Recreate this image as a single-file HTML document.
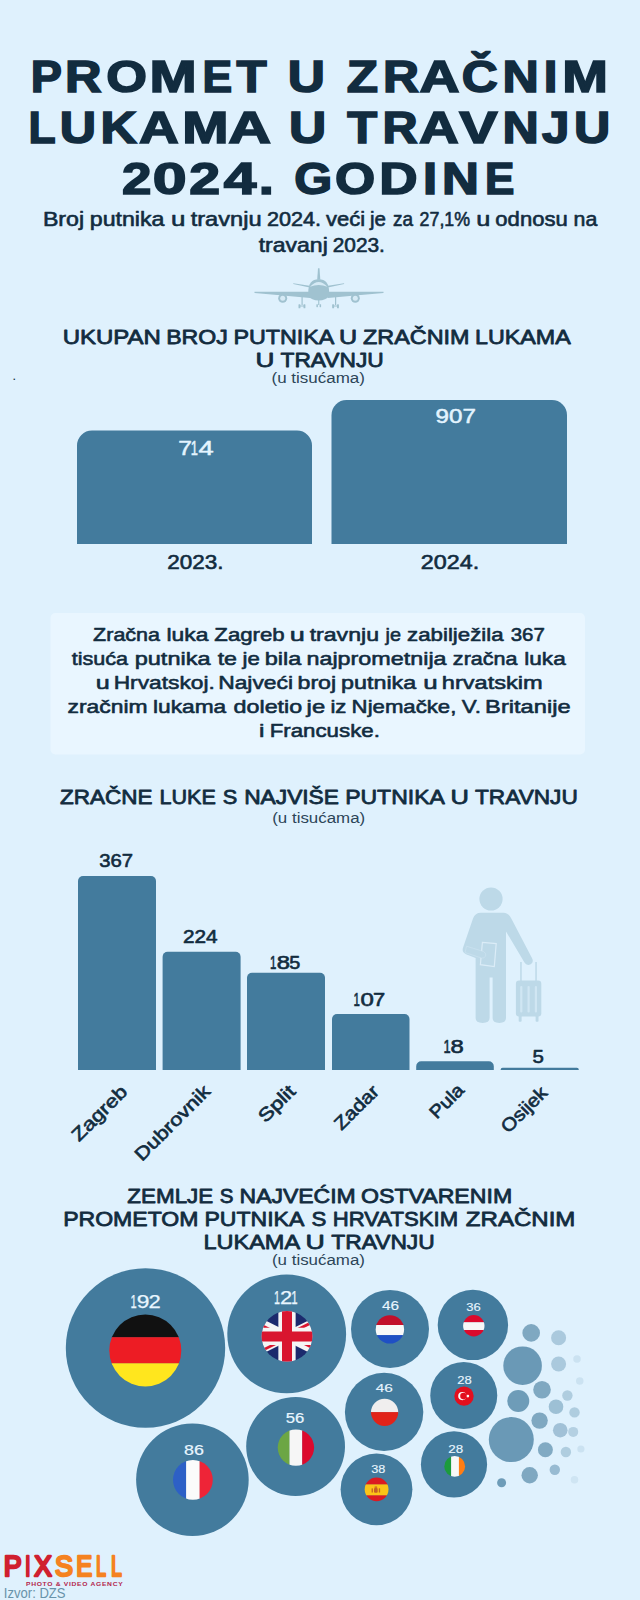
<!DOCTYPE html>
<html lang="hr">
<head>
<meta charset="utf-8">
<title>Promet u zračnim lukama u travnju 2024. godine</title>
<style>
html,body{margin:0;padding:0;background:#dff1fd;}
body{width:640px;height:1600px;overflow:hidden;}
svg{display:block;font-family:"Liberation Sans",sans-serif;}
text{white-space:pre;}
</style>
</head>
<body>
<svg width="640" height="1600" viewBox="0 0 640 1600">
<rect width="640" height="1600" fill="#dff1fd"/>
<text y="92.40" font-size="44.62" font-weight="700" fill="#122c3f" stroke="#122c3f" stroke-width="1.6" stroke-linejoin="miter" aria-label="PROMET U ZRAČNIM"><tspan x="30.76" textLength="31.19" lengthAdjust="spacingAndGlyphs">P</tspan><tspan x="65.01" textLength="36.56" lengthAdjust="spacingAndGlyphs">R</tspan><tspan x="106.21" textLength="40.74" lengthAdjust="spacingAndGlyphs">O</tspan><tspan x="149.62" textLength="47.19" lengthAdjust="spacingAndGlyphs">M</tspan><tspan x="202.41" textLength="29.69" lengthAdjust="spacingAndGlyphs">E</tspan><tspan x="236.56" textLength="30.18" lengthAdjust="spacingAndGlyphs">T</tspan> <tspan x="287.71" textLength="37.19" lengthAdjust="spacingAndGlyphs">U</tspan> <tspan x="346.76" textLength="31.26" lengthAdjust="spacingAndGlyphs">Z</tspan><tspan x="383.06" textLength="36.00" lengthAdjust="spacingAndGlyphs">R</tspan><tspan x="419.41" textLength="40.04" lengthAdjust="spacingAndGlyphs">A</tspan><tspan x="461.80" textLength="36.05" lengthAdjust="spacingAndGlyphs">Č</tspan><tspan x="502.53" textLength="36.29" lengthAdjust="spacingAndGlyphs">N</tspan><tspan x="543.84" textLength="13.70" lengthAdjust="spacingAndGlyphs">I</tspan><tspan x="562.23" textLength="45.70" lengthAdjust="spacingAndGlyphs">M</tspan></text>
<text y="143.40" font-size="44.62" font-weight="700" fill="#122c3f" stroke="#122c3f" stroke-width="1.6" stroke-linejoin="miter" aria-label="LUKAMA U TRAVNJU"><tspan x="28.41" textLength="27.16" lengthAdjust="spacingAndGlyphs">L</tspan><tspan x="59.78" textLength="36.29" lengthAdjust="spacingAndGlyphs">U</tspan><tspan x="100.53" textLength="36.28" lengthAdjust="spacingAndGlyphs">K</tspan><tspan x="138.92" textLength="39.77" lengthAdjust="spacingAndGlyphs">A</tspan><tspan x="182.19" textLength="46.29" lengthAdjust="spacingAndGlyphs">M</tspan><tspan x="228.15" textLength="40.58" lengthAdjust="spacingAndGlyphs">A</tspan> <tspan x="288.96" textLength="37.19" lengthAdjust="spacingAndGlyphs">U</tspan> <tspan x="347.31" textLength="29.92" lengthAdjust="spacingAndGlyphs">T</tspan><tspan x="382.64" textLength="35.14" lengthAdjust="spacingAndGlyphs">R</tspan><tspan x="418.92" textLength="39.77" lengthAdjust="spacingAndGlyphs">A</tspan><tspan x="459.26" textLength="38.34" lengthAdjust="spacingAndGlyphs">V</tspan><tspan x="502.53" textLength="36.29" lengthAdjust="spacingAndGlyphs">N</tspan><tspan x="542.06" textLength="27.40" lengthAdjust="spacingAndGlyphs">J</tspan><tspan x="574.03" textLength="36.29" lengthAdjust="spacingAndGlyphs">U</tspan></text>
<text y="194.40" font-size="44.62" font-weight="700" fill="#122c3f" stroke="#122c3f" stroke-width="1.6" stroke-linejoin="miter" aria-label="2024. GODINE"><tspan x="121.95" textLength="29.43" lengthAdjust="spacingAndGlyphs">2</tspan><tspan x="152.87" textLength="33.84" lengthAdjust="spacingAndGlyphs">0</tspan><tspan x="189.36" textLength="30.88" lengthAdjust="spacingAndGlyphs">2</tspan><tspan x="223.67" textLength="32.64" lengthAdjust="spacingAndGlyphs">4</tspan><tspan x="258.76" textLength="15.14" lengthAdjust="spacingAndGlyphs">.</tspan> <tspan x="294.35" textLength="37.91" lengthAdjust="spacingAndGlyphs">G</tspan><tspan x="334.98" textLength="40.18" lengthAdjust="spacingAndGlyphs">O</tspan><tspan x="379.35" textLength="38.34" lengthAdjust="spacingAndGlyphs">D</tspan><tspan x="422.98" textLength="14.18" lengthAdjust="spacingAndGlyphs">I</tspan><tspan x="441.98" textLength="36.91" lengthAdjust="spacingAndGlyphs">N</tspan><tspan x="484.94" textLength="29.40" lengthAdjust="spacingAndGlyphs">E</tspan></text>
<text y="226.00" font-size="19.62" font-weight="400" fill="#122c3f" stroke="#122c3f" stroke-width="0.6" stroke-linejoin="round"><tspan x="42.95" textLength="41.13" lengthAdjust="spacingAndGlyphs">Broj</tspan> <tspan x="89.74" textLength="74.75" lengthAdjust="spacingAndGlyphs">putnika</tspan> <tspan x="171.07" textLength="14.40" lengthAdjust="spacingAndGlyphs">u</tspan> <tspan x="190.65" textLength="70.93" lengthAdjust="spacingAndGlyphs">travnju</tspan> <tspan x="266.92" textLength="54.08" lengthAdjust="spacingAndGlyphs">2024.</tspan> <tspan x="326.14" textLength="39.11" lengthAdjust="spacingAndGlyphs">veći</tspan> <tspan x="370.01" textLength="15.98" lengthAdjust="spacingAndGlyphs">je</tspan> <tspan x="392.99" textLength="20.03" lengthAdjust="spacingAndGlyphs">za</tspan> <tspan x="419.61" textLength="50.52" lengthAdjust="spacingAndGlyphs">27,1%</tspan> <tspan x="476.36" textLength="14.07" lengthAdjust="spacingAndGlyphs">u</tspan> <tspan x="495.37" textLength="72.33" lengthAdjust="spacingAndGlyphs">odnosu</tspan> <tspan x="573.61" textLength="23.74" lengthAdjust="spacingAndGlyphs">na</tspan></text>
<text y="252.00" font-size="19.62" font-weight="400" fill="#122c3f" stroke="#122c3f" stroke-width="0.6" stroke-linejoin="round"><tspan x="258.65" textLength="69.13" lengthAdjust="spacingAndGlyphs">travanj</tspan> <tspan x="332.71" textLength="52.22" lengthAdjust="spacingAndGlyphs">2023.</tspan></text>
<g fill="#a0c2d0">
<path d="M318 268.3h1.500l.800 11.500h-3.100z"/>
<path d="M308.300 292Q308.300 279.300 318.700 279.300Q329.100 279.300 329.100 292V296.200Q326 300.300 318.700 300.400Q311.400 300.300 308.300 296.200Z"/>
<path d="M293.300 283.200l16.200 2.600v1.800l-16.200-3.600zM344.100 283.200l-16.200 2.600v1.800l16.200-3.600z"/>
<path d="M254.500 291.700H310V298l-30-2.700l-25.500-2.400zM383.500 291.700H328V298l30-2.700l25.500-2.400z"/>
<circle cx="282.700" cy="298.300" r="4.500"/><circle cx="355.300" cy="298.300" r="4.500"/>
<rect x="301.500" y="296" width="1.200" height="9"/><rect x="318.200" y="299" width="1.100" height="6"/><rect x="335" y="296" width="1.200" height="9"/>
<rect x="298.500" y="304.200" width="1.900" height="4" rx=".5"/><rect x="303.500" y="304.200" width="1.900" height="4" rx=".5"/><rect x="299" y="305.500" width="6" height="1"/>
<rect x="316.400" y="304.200" width="1.500" height="3" rx=".4"/><rect x="319.600" y="304.200" width="1.500" height="3" rx=".4"/>
<rect x="332.200" y="304.200" width="1.900" height="4" rx=".5"/><rect x="337" y="304.200" width="1.900" height="4" rx=".5"/><rect x="332.500" y="305.500" width="6" height="1"/>
</g>
<circle cx="282.700" cy="298.300" r="2.500" fill="#d6eaf5"/><circle cx="355.300" cy="298.300" r="2.500" fill="#d6eaf5"/>
<path d="M310 286.800Q318.700 277 327.400 286.800Q318.700 283.300 310 286.800Z" fill="#d6eaf5"/>
<text y="344.25" font-size="20.71" font-weight="400" fill="#122c3f" stroke="#122c3f" stroke-width="0.8" stroke-linejoin="round"><tspan x="62.70" textLength="98.04" lengthAdjust="spacingAndGlyphs">UKUPAN</tspan> <tspan x="166.15" textLength="61.63" lengthAdjust="spacingAndGlyphs">BROJ</tspan> <tspan x="233.46" textLength="99.63" lengthAdjust="spacingAndGlyphs">PUTNIKA</tspan> <tspan x="339.12" textLength="18.12" lengthAdjust="spacingAndGlyphs">U</tspan> <tspan x="363.05" textLength="106.44" lengthAdjust="spacingAndGlyphs">ZRAČNIM</tspan> <tspan x="475.14" textLength="95.62" lengthAdjust="spacingAndGlyphs">LUKAMA</tspan></text>
<text y="366.75" font-size="20.71" font-weight="400" fill="#122c3f" stroke="#122c3f" stroke-width="0.8" stroke-linejoin="round"><tspan x="255.64" textLength="18.88" lengthAdjust="spacingAndGlyphs">U</tspan> <tspan x="280.55" textLength="103.21" lengthAdjust="spacingAndGlyphs">TRAVNJU</tspan></text>
<text transform="translate(271.48 383.00) scale(1.1414 1)" font-size="14.90" font-weight="400" fill="#2c4558">(u tisućama)</text>
<text x="13" y="380.3" font-size="9" font-weight="700" fill="#122c3f">.</text>
<path d="M77 544V445.5a15 15 0 0 1 15-15H297a15 15 0 0 1 15 15V544z" fill="#437b9d"/>
<path d="M331.5 544V415a15 15 0 0 1 15-15H552a15 15 0 0 1 15 15V544z" fill="#437b9d"/>
<text y="454.50" font-size="19.91" font-weight="400" fill="#e3f4ff" stroke="#e3f4ff" stroke-width="0.5" stroke-linejoin="round" aria-label="714"><tspan x="178.17" textLength="13.69" lengthAdjust="spacingAndGlyphs">7</tspan><tspan x="190.63" textLength="7.16" lengthAdjust="spacingAndGlyphs">1</tspan><tspan x="198.45" textLength="15.20" lengthAdjust="spacingAndGlyphs">4</tspan></text>
<text transform="translate(435.61 423.00) scale(1.2155 1)" font-size="19.91" font-weight="400" fill="#e3f4ff" stroke="#e3f4ff" stroke-width="0.5" stroke-linejoin="round">907</text>
<text transform="translate(167.28 569.00) scale(1.1278 1)" font-size="19.91" font-weight="400" fill="#122c3f" stroke="#122c3f" stroke-width="0.6" stroke-linejoin="round">2023.</text>
<text transform="translate(420.83 569.00) scale(1.1704 1)" font-size="19.91" font-weight="400" fill="#122c3f" stroke="#122c3f" stroke-width="0.6" stroke-linejoin="round">2024.</text>
<rect x="50.5" y="613" width="534.5" height="141.5" rx="5" fill="#e9f6ff"/>
<text y="641.25" font-size="19.26" font-weight="400" fill="#122c3f" stroke="#122c3f" stroke-width="0.6" stroke-linejoin="round"><tspan x="93.10" textLength="66.95" lengthAdjust="spacingAndGlyphs">Zračna</tspan> <tspan x="166.51" textLength="41.98" lengthAdjust="spacingAndGlyphs">luka</tspan> <tspan x="214.33" textLength="70.38" lengthAdjust="spacingAndGlyphs">Zagreb</tspan> <tspan x="289.74" textLength="15.05" lengthAdjust="spacingAndGlyphs">u</tspan> <tspan x="309.65" textLength="69.39" lengthAdjust="spacingAndGlyphs">travnju</tspan> <tspan x="385.50" textLength="15.46" lengthAdjust="spacingAndGlyphs">je</tspan> <tspan x="407.11" textLength="96.40" lengthAdjust="spacingAndGlyphs">zabilježila</tspan> <tspan x="510.68" textLength="34.16" lengthAdjust="spacingAndGlyphs">367</tspan></text>
<text y="665.10" font-size="19.26" font-weight="400" fill="#122c3f" stroke="#122c3f" stroke-width="0.6" stroke-linejoin="round"><tspan x="71.68" textLength="56.37" lengthAdjust="spacingAndGlyphs">tisuća</tspan> <tspan x="134.72" textLength="75.77" lengthAdjust="spacingAndGlyphs">putnika</tspan> <tspan x="217.65" textLength="19.37" lengthAdjust="spacingAndGlyphs">te</tspan> <tspan x="242.55" textLength="17.27" lengthAdjust="spacingAndGlyphs">je</tspan> <tspan x="264.72" textLength="36.57" lengthAdjust="spacingAndGlyphs">bila</tspan> <tspan x="306.48" textLength="140.09" lengthAdjust="spacingAndGlyphs">najprometnija</tspan> <tspan x="452.89" textLength="64.65" lengthAdjust="spacingAndGlyphs">zračna</tspan> <tspan x="524.28" textLength="41.46" lengthAdjust="spacingAndGlyphs">luka</tspan></text>
<text y="689.00" font-size="19.26" font-weight="400" fill="#122c3f" stroke="#122c3f" stroke-width="0.6" stroke-linejoin="round"><tspan x="95.66" textLength="14.00" lengthAdjust="spacingAndGlyphs">u</tspan> <tspan x="113.68" textLength="101.13" lengthAdjust="spacingAndGlyphs">Hrvatskoj.</tspan> <tspan x="218.17" textLength="74.90" lengthAdjust="spacingAndGlyphs">Najveći</tspan> <tspan x="297.49" textLength="38.67" lengthAdjust="spacingAndGlyphs">broj</tspan> <tspan x="340.98" textLength="75.26" lengthAdjust="spacingAndGlyphs">putnika</tspan> <tspan x="423.32" textLength="14.40" lengthAdjust="spacingAndGlyphs">u</tspan> <tspan x="441.85" textLength="100.90" lengthAdjust="spacingAndGlyphs">hrvatskim</tspan></text>
<text y="712.90" font-size="19.26" font-weight="400" fill="#122c3f" stroke="#122c3f" stroke-width="0.6" stroke-linejoin="round"><tspan x="67.59" textLength="80.05" lengthAdjust="spacingAndGlyphs">zračnim</tspan> <tspan x="153.02" textLength="73.20" lengthAdjust="spacingAndGlyphs">lukama</tspan> <tspan x="233.57" textLength="68.66" lengthAdjust="spacingAndGlyphs">doletio</tspan> <tspan x="306.60" textLength="18.56" lengthAdjust="spacingAndGlyphs">je</tspan> <tspan x="330.46" textLength="16.00" lengthAdjust="spacingAndGlyphs">iz</tspan> <tspan x="351.63" textLength="104.74" lengthAdjust="spacingAndGlyphs">Njemačke,</tspan> <tspan x="461.89" textLength="19.21" lengthAdjust="spacingAndGlyphs">V.</tspan> <tspan x="485.11" textLength="85.43" lengthAdjust="spacingAndGlyphs">Britanije</tspan></text>
<text y="737.00" font-size="19.26" font-weight="400" fill="#122c3f" stroke="#122c3f" stroke-width="0.6" stroke-linejoin="round"><tspan x="259.01" textLength="5.43" lengthAdjust="spacingAndGlyphs">i</tspan> <tspan x="269.72" textLength="110.12" lengthAdjust="spacingAndGlyphs">Francuske.</tspan></text>
<text y="804.25" font-size="20.71" font-weight="400" fill="#122c3f" stroke="#122c3f" stroke-width="0.8" stroke-linejoin="round"><tspan x="60.07" textLength="92.56" lengthAdjust="spacingAndGlyphs">ZRAČNE</tspan> <tspan x="159.52" textLength="56.39" lengthAdjust="spacingAndGlyphs">LUKE</tspan> <tspan x="222.77" textLength="14.50" lengthAdjust="spacingAndGlyphs">S</tspan> <tspan x="244.18" textLength="94.80" lengthAdjust="spacingAndGlyphs">NAJVIŠE</tspan> <tspan x="345.18" textLength="98.41" lengthAdjust="spacingAndGlyphs">PUTNIKA</tspan> <tspan x="450.59" textLength="18.37" lengthAdjust="spacingAndGlyphs">U</tspan> <tspan x="475.05" textLength="102.70" lengthAdjust="spacingAndGlyphs">TRAVNJU</tspan></text>
<text transform="translate(272.24 823.00) scale(1.1352 1)" font-size="14.90" font-weight="400" fill="#2c4558">(u tisućama)</text>
<path d="M78 1070V881a5 5 0 0 1 5-5H151a5 5 0 0 1 5 5V1070z" fill="#437b9d"/>
<path d="M162.6 1070V956.7a5 5 0 0 1 5-5H235.6a5 5 0 0 1 5 5V1070z" fill="#437b9d"/>
<path d="M247 1070V977.8a5 5 0 0 1 5-5H320a5 5 0 0 1 5 5V1070z" fill="#437b9d"/>
<path d="M332 1070V1019a5 5 0 0 1 5-5H404.5a5 5 0 0 1 5 5V1070z" fill="#437b9d"/>
<path d="M416.2 1070V1066.2a5 5 0 0 1 5-5H488.8a5 5 0 0 1 5 5V1070z" fill="#437b9d"/>
<path d="M500.6 1070V1069.8a2 2 0 0 1 2-2H576.8a2 2 0 0 1 2 2V1070z" fill="#437b9d"/>
<text transform="translate(99.19 866.80) scale(1.1094 1)" font-size="18.31" font-weight="400" fill="#122c3f" stroke="#122c3f" stroke-width="0.6" stroke-linejoin="round">367</text>
<text transform="translate(182.96 942.70) scale(1.1368 1)" font-size="18.31" font-weight="400" fill="#122c3f" stroke="#122c3f" stroke-width="0.6" stroke-linejoin="round">224</text>
<text y="968.70" font-size="18.31" font-weight="400" fill="#122c3f" stroke="#122c3f" stroke-width="0.6" stroke-linejoin="round" aria-label="185"><tspan x="270.04" textLength="6.39" lengthAdjust="spacingAndGlyphs">1</tspan><tspan x="276.73" textLength="13.25" lengthAdjust="spacingAndGlyphs">8</tspan><tspan x="289.21" textLength="11.01" lengthAdjust="spacingAndGlyphs">5</tspan></text>
<text y="1005.60" font-size="18.31" font-weight="400" fill="#122c3f" stroke="#122c3f" stroke-width="0.6" stroke-linejoin="round" aria-label="107"><tspan x="353.44" textLength="6.39" lengthAdjust="spacingAndGlyphs">1</tspan><tspan x="360.54" textLength="13.32" lengthAdjust="spacingAndGlyphs">0</tspan><tspan x="372.90" textLength="12.22" lengthAdjust="spacingAndGlyphs">7</tspan></text>
<text y="1052.50" font-size="18.31" font-weight="400" fill="#122c3f" stroke="#122c3f" stroke-width="0.6" stroke-linejoin="round" aria-label="18"><tspan x="443.43" textLength="7.16" lengthAdjust="spacingAndGlyphs">1</tspan><tspan x="450.53" textLength="13.25" lengthAdjust="spacingAndGlyphs">8</tspan></text>
<text transform="translate(532.58 1062.80) scale(1.1151 1)" font-size="18.31" font-weight="400" fill="#122c3f" stroke="#122c3f" stroke-width="0.6" stroke-linejoin="round">5</text>
<text transform="translate(128.50 1092.90) rotate(-45) scale(1.2050 1)" text-anchor="end" font-size="18.30" font-weight="400" fill="#122c3f" stroke="#122c3f" stroke-width="0.65" stroke-linejoin="round">Zagreb</text>
<text transform="translate(211.40 1092.50) rotate(-45) scale(1.1920 1)" text-anchor="end" font-size="18.30" font-weight="400" fill="#122c3f" stroke="#122c3f" stroke-width="0.65" stroke-linejoin="round">Dubrovnik</text>
<text transform="translate(296.60 1092.50) rotate(-45) scale(1.2330 1)" text-anchor="end" font-size="18.30" font-weight="400" fill="#122c3f" stroke="#122c3f" stroke-width="0.65" stroke-linejoin="round">Split</text>
<text transform="translate(380.20 1092.50) rotate(-45) scale(1.1430 1)" text-anchor="end" font-size="18.30" font-weight="400" fill="#122c3f" stroke="#122c3f" stroke-width="0.65" stroke-linejoin="round">Zadar</text>
<text transform="translate(465.20 1091.30) rotate(-45) scale(1.1000 1)" text-anchor="end" font-size="18.30" font-weight="400" fill="#122c3f" stroke="#122c3f" stroke-width="0.65" stroke-linejoin="round">Pula</text>
<text transform="translate(548.50 1093.90) rotate(-45) scale(1.1200 1)" text-anchor="end" font-size="18.30" font-weight="400" fill="#122c3f" stroke="#122c3f" stroke-width="0.65" stroke-linejoin="round">Osijek</text>
<g fill="#bdd9e8">
<circle cx="491" cy="899" r="11.6"/>
<path d="M481 912.7H503.5Q508.5 912.7 511.3 918.5L532.2 958.5Q534 962.6 530.3 964.4Q526.6 966 524.3 962.3L506 931.5V1018Q506 1022.9 499.3 1022.9Q492.6 1022.9 492.6 1018V977.5H489.6V1018Q489.6 1022.9 482.6 1022.9Q475.6 1022.9 475.6 1018V958L466 954.3Q461.6 952.4 463 947.8L473 918.5Q475 912.7 481 912.7Z"/>
<rect x="515.9" y="980.6" width="25.4" height="35.8" rx="3.2"/>
<rect x="520.2" y="962" width="1.5" height="20"/><rect x="535.3" y="962" width="1.5" height="20"/>
<rect x="518.7" y="1015.5" width="2.9" height="6.3" rx=".8"/><rect x="535.6" y="1015.5" width="2.9" height="6.3" rx=".8"/>
</g>
<g fill="#d0e6f3"><rect x="520.2" y="986" width="2.2" height="26.5" rx="1.1"/><rect x="527.5" y="986" width="2.2" height="26.5" rx="1.1"/><rect x="534.8" y="986" width="2.2" height="26.5" rx="1.1"/></g>
<path d="M482.4 942.3L496.2 943.6L494.3 966.5L480.4 964.7Z" fill="#bdd9e8" stroke="#dbecf7" stroke-width="1.2"/>
<path d="M466.5 946.2L483.5 951.5Q486.6 953 485.6 956Q484.4 958.8 481.4 958L465 952.5Z" fill="#bdd9e8" stroke="#cfe4f1" stroke-width=".6"/>
<text y="1202.50" font-size="20.71" font-weight="400" fill="#122c3f" stroke="#122c3f" stroke-width="0.8" stroke-linejoin="round"><tspan x="127.33" textLength="85.96" lengthAdjust="spacingAndGlyphs">ZEMLJE</tspan> <tspan x="219.68" textLength="13.69" lengthAdjust="spacingAndGlyphs">S</tspan> <tspan x="239.56" textLength="116.10" lengthAdjust="spacingAndGlyphs">NAJVEĆIM</tspan> <tspan x="360.96" textLength="151.26" lengthAdjust="spacingAndGlyphs">OSTVARENIM</tspan></text>
<text y="1226.00" font-size="20.71" font-weight="400" fill="#122c3f" stroke="#122c3f" stroke-width="0.8" stroke-linejoin="round"><tspan x="63.16" textLength="135.31" lengthAdjust="spacingAndGlyphs">PROMETOM</tspan> <tspan x="204.43" textLength="98.67" lengthAdjust="spacingAndGlyphs">PUTNIKA</tspan> <tspan x="311.50" textLength="14.85" lengthAdjust="spacingAndGlyphs">S</tspan> <tspan x="332.73" textLength="125.35" lengthAdjust="spacingAndGlyphs">HRVATSKIM</tspan> <tspan x="465.88" textLength="109.47" lengthAdjust="spacingAndGlyphs">ZRAČNIM</tspan></text>
<text y="1249.00" font-size="20.71" font-weight="400" fill="#122c3f" stroke="#122c3f" stroke-width="0.8" stroke-linejoin="round"><tspan x="203.44" textLength="95.36" lengthAdjust="spacingAndGlyphs">LUKAMA</tspan> <tspan x="305.50" textLength="19.26" lengthAdjust="spacingAndGlyphs">U</tspan> <tspan x="331.24" textLength="103.52" lengthAdjust="spacingAndGlyphs">TRAVNJU</tspan></text>
<text transform="translate(271.99 1265.00) scale(1.1352 1)" font-size="14.90" font-weight="400" fill="#2c4558">(u tisućama)</text>
<circle cx="145.5" cy="1348" r="79.7" fill="#437b9d"/>
<circle cx="286.7" cy="1333.9" r="59.4" fill="#437b9d"/>
<circle cx="192.4" cy="1479.8" r="56.3" fill="#437b9d"/>
<circle cx="295.6" cy="1446.5" r="49.4" fill="#437b9d"/>
<circle cx="390" cy="1328.9" r="39" fill="#437b9d"/>
<circle cx="472.9" cy="1324.9" r="35.2" fill="#437b9d"/>
<circle cx="384.1" cy="1411.9" r="39.2" fill="#437b9d"/>
<circle cx="463.75" cy="1395.4" r="33.5" fill="#437b9d"/>
<circle cx="376.5" cy="1489.3" r="35.9" fill="#437b9d"/>
<circle cx="454" cy="1464.4" r="33.1" fill="#437b9d"/>
<circle cx="531.2" cy="1332.9" r="8.8" fill="#437b9d" fill-opacity="0.62"/>
<circle cx="558.6" cy="1337.8" r="7.5" fill="#437b9d" fill-opacity="0.34"/>
<circle cx="522.6" cy="1365.7" r="19.3" fill="#437b9d" fill-opacity="0.75"/>
<circle cx="558.6" cy="1364" r="7.5" fill="#437b9d" fill-opacity="0.34"/>
<circle cx="577" cy="1359" r="3.75" fill="#437b9d" fill-opacity="0.12"/>
<circle cx="579.75" cy="1381" r="3.75" fill="#437b9d" fill-opacity="0.12"/>
<circle cx="542" cy="1389.7" r="8.8" fill="#437b9d" fill-opacity="0.62"/>
<circle cx="518.25" cy="1401" r="11" fill="#437b9d" fill-opacity="0.72"/>
<circle cx="567.4" cy="1395.5" r="5.2" fill="#437b9d" fill-opacity="0.3"/>
<circle cx="556" cy="1406.75" r="7.3" fill="#437b9d" fill-opacity="0.42"/>
<circle cx="574.5" cy="1412.4" r="5.2" fill="#437b9d" fill-opacity="0.3"/>
<circle cx="539.6" cy="1420.6" r="8.2" fill="#437b9d" fill-opacity="0.62"/>
<circle cx="560.25" cy="1430.2" r="7.3" fill="#437b9d" fill-opacity="0.4"/>
<circle cx="573.2" cy="1431.9" r="5" fill="#437b9d" fill-opacity="0.28"/>
<circle cx="511.3" cy="1439.6" r="22.5" fill="#437b9d" fill-opacity="0.75"/>
<circle cx="545.4" cy="1449.7" r="7.5" fill="#437b9d" fill-opacity="0.6"/>
<circle cx="565.9" cy="1452" r="5.2" fill="#437b9d" fill-opacity="0.3"/>
<circle cx="580.9" cy="1449" r="3.6" fill="#437b9d" fill-opacity="0.12"/>
<circle cx="554.8" cy="1469.75" r="5.2" fill="#437b9d" fill-opacity="0.45"/>
<circle cx="529.7" cy="1475.2" r="8.2" fill="#437b9d" fill-opacity="0.62"/>
<circle cx="501.6" cy="1482.7" r="4.5" fill="#437b9d" fill-opacity="0.72"/>
<circle cx="574.5" cy="1479.7" r="3.75" fill="#437b9d" fill-opacity="0.1"/>
<clipPath id="fde"><circle cx="145.3" cy="1350.5" r="36"/></clipPath>
<g clip-path="url(#fde)"><rect x="108.30000000000001" y="1313.5" width="74" height="24.000000000000046" fill="#111111"/><rect x="108.30000000000001" y="1337.2" width="74" height="26.39999999999991" fill="#ed1c24"/><rect x="108.30000000000001" y="1363.3" width="74" height="24.500000000000046" fill="#ffe61e"/></g>
<clipPath id="fuk"><circle cx="287.0" cy="1336.4" r="25.4"/></clipPath>
<clipPath id="ukt"><path d="M30,15 h30 v15 z v15 h-30 z h-30 v-15 z v-15 h30 z"/></clipPath>
<g clip-path="url(#fuk)"><g transform="translate(261.60 1311.00) scale(1.6933) translate(-15 0)">
<rect x="0" y="0" width="60" height="30" fill="#1c2a6d"/>
<path d="M0,0 L60,30 M60,0 L0,30" stroke="#f5f5f5" stroke-width="5.4"/>
<path d="M0,0 L60,30 M60,0 L0,30" stroke="#d9152f" stroke-width="3.4" clip-path="url(#ukt)"/>
<path d="M30,0 v30 M0,15 h60" stroke="#f5f5f5" stroke-width="10.2"/>
<path d="M30,0 v30 M0,15 h60" stroke="#d9152f" stroke-width="5.900"/>
</g></g>
<clipPath id="ffr"><circle cx="192.9" cy="1479.85" r="19.9"/></clipPath>
<g clip-path="url(#ffr)"><rect x="172.0" y="1458.9499999999998" width="14.399999999999995" height="41.8" fill="#2d60c6"/><rect x="186.1" y="1458.9499999999998" width="13.8" height="41.8" fill="#fbfbfb"/><rect x="199.6" y="1458.9499999999998" width="14.500000000000018" height="41.8" fill="#ee2437"/></g>
<clipPath id="fit"><circle cx="295.9" cy="1447.6" r="18.2"/></clipPath>
<g clip-path="url(#fit)"><rect x="276.7" y="1428.3999999999999" width="13.100000000000012" height="38.4" fill="#6ca644"/><rect x="289.5" y="1428.3999999999999" width="12.99999999999999" height="38.4" fill="#f6f6f6"/><rect x="302.2" y="1428.3999999999999" width="13.199999999999978" height="38.4" fill="#dc0a2d"/></g>
<linearGradient id="gnl" x1="0" y1="0" x2="0" y2="1"><stop offset="0" stop-color="#9e0a1e"/><stop offset="1" stop-color="#d8152f"/></linearGradient>
<clipPath id="fnl"><circle cx="389.9" cy="1329.4" r="14.2"/></clipPath>
<g clip-path="url(#fnl)"><rect x="374.7" y="1314.2" width="30.4" height="11.099999999999955" fill="#c2102a"/><rect x="374.7" y="1325" width="30.4" height="10.39999999999991" fill="#f8f8f8"/><rect x="374.7" y="1335.1" width="30.4" height="9.800000000000228" fill="#1f4fc4"/></g>
<clipPath id="fat"><circle cx="473.8" cy="1325.7" r="10.7"/></clipPath>
<g clip-path="url(#fat)"><rect x="462.1" y="1314.0" width="23.4" height="8.500000000000046" fill="#dc0a2d"/><rect x="462.1" y="1322.2" width="23.4" height="8.099999999999955" fill="#f8f8f8"/><rect x="462.1" y="1330" width="23.4" height="7.700000000000091" fill="#dc0a2d"/></g>
<clipPath id="fpl"><circle cx="384.6" cy="1412.3" r="13.6"/></clipPath>
<g clip-path="url(#fpl)"><rect x="370.0" y="1397.7" width="29.2" height="14.699999999999864" fill="#f0eeee"/><rect x="370.0" y="1412.1" width="29.2" height="15.099999999999955" fill="#e12319"/></g>
<circle cx="464" cy="1396.1" r="9.7" fill="#e30f1e"/><circle cx="462.300" cy="1396.100" r="4.100" fill="#fbfbfb"/><circle cx="463.500" cy="1396.100" r="3.300" fill="#e30f1e"/><circle cx="467.900" cy="1396.100" r="1.300" fill="#fbfbfb"/>
<clipPath id="fes"><circle cx="376.6" cy="1489.3" r="11.9"/></clipPath>
<g clip-path="url(#fes)"><rect x="363.70000000000005" y="1476.3999999999999" width="25.8" height="8.300000000000228" fill="#dc1a22"/><rect x="363.70000000000005" y="1484.4" width="25.8" height="11.3" fill="#fcc417"/><rect x="363.70000000000005" y="1495.4" width="25.8" height="7.099999999999954" fill="#dc1a22"/></g>
<g fill="#b8482a" fill-opacity=".82"><rect x="374" y="1488" width="3.700" height="4.800" rx="1.100"/><rect x="374.500" y="1486.500" width="2.700" height="1.300" rx=".400"/><rect x="371.600" y="1488.300" width="1.300" height="4.300" rx=".400"/><rect x="378.800" y="1488.300" width="1.300" height="4.300" rx=".400"/></g>
<clipPath id="fie"><circle cx="454.7" cy="1466.4" r="10.4"/></clipPath>
<g clip-path="url(#fie)"><rect x="443.3" y="1455.0" width="8.100000000000012" height="22.8" fill="#1c9b3c"/><rect x="451.1" y="1455.0" width="8.099999999999955" height="22.8" fill="#f8f8f8"/><rect x="458.9" y="1455.0" width="7.4999999999999885" height="22.8" fill="#ff7d14"/></g>
<text y="1307.90" font-size="18.17" font-weight="400" fill="#e9f6ff" stroke="#e9f6ff" stroke-width="0.25" stroke-linejoin="round" aria-label="192"><tspan x="130.41" textLength="6.20" lengthAdjust="spacingAndGlyphs">1</tspan><tspan x="136.77" textLength="12.68" lengthAdjust="spacingAndGlyphs">9</tspan><tspan x="148.60" textLength="12.22" lengthAdjust="spacingAndGlyphs">2</tspan></text>
<text y="1303.60" font-size="18.17" font-weight="400" fill="#e9f6ff" stroke="#e9f6ff" stroke-width="0.25" stroke-linejoin="round" aria-label="121"><tspan x="273.95" textLength="5.95" lengthAdjust="spacingAndGlyphs">1</tspan><tspan x="279.90" textLength="12.22" lengthAdjust="spacingAndGlyphs">2</tspan><tspan x="291.14" textLength="6.39" lengthAdjust="spacingAndGlyphs">1</tspan></text>
<text transform="translate(184.10 1455.00) scale(1.1926 1)" font-size="14.97" font-weight="400" fill="#e9f6ff" stroke="#e9f6ff" stroke-width="0.2" stroke-linejoin="round">86</text>
<text transform="translate(285.73 1423.00) scale(1.1375 1)" font-size="14.68" font-weight="400" fill="#e9f6ff" stroke="#e9f6ff" stroke-width="0.2" stroke-linejoin="round">56</text>
<text transform="translate(381.99 1309.80) scale(1.2710 1)" font-size="12.06" font-weight="400" fill="#e9f6ff" stroke="#e9f6ff" stroke-width="0.12" stroke-linejoin="round">46</text>
<text transform="translate(466.28 1311.00) scale(1.1475 1)" font-size="11.34" font-weight="400" fill="#e9f6ff" stroke="#e9f6ff" stroke-width="0.12" stroke-linejoin="round">36</text>
<text transform="translate(375.79 1392.10) scale(1.3105 1)" font-size="11.77" font-weight="400" fill="#e9f6ff" stroke="#e9f6ff" stroke-width="0.12" stroke-linejoin="round">46</text>
<text transform="translate(457.35 1383.80) scale(1.1651 1)" font-size="11.19" font-weight="400" fill="#e9f6ff" stroke="#e9f6ff" stroke-width="0.12" stroke-linejoin="round">28</text>
<text transform="translate(371.29 1472.80) scale(1.1667 1)" font-size="10.90" font-weight="400" fill="#e9f6ff" stroke="#e9f6ff" stroke-width="0.12" stroke-linejoin="round">38</text>
<text transform="translate(448.33 1453.00) scale(1.2001 1)" font-size="11.19" font-weight="400" fill="#e9f6ff" stroke="#e9f6ff" stroke-width="0.12" stroke-linejoin="round">28</text>
<text y="1575.70" font-size="29.65" font-weight="400" fill="#122c3f" stroke="#122c3f" stroke-width="2.6" stroke-linejoin="round" aria-label="PIXSELL"><tspan x="3.65" textLength="17.95" lengthAdjust="spacingAndGlyphs" fill="#d0202f" stroke="#d0202f">P</tspan><tspan x="25.00" textLength="5.56" lengthAdjust="spacingAndGlyphs" fill="#d0202f" stroke="#d0202f">I</tspan><tspan x="34.14" textLength="17.64" lengthAdjust="spacingAndGlyphs" fill="#d0202f" stroke="#d0202f">X</tspan><tspan x="55.09" textLength="17.98" lengthAdjust="spacingAndGlyphs" fill="#f58220" stroke="#f58220">S</tspan><tspan x="76.29" textLength="15.91" lengthAdjust="spacingAndGlyphs" fill="#f58220" stroke="#f58220">E</tspan><tspan x="96.10" textLength="10.06" lengthAdjust="spacingAndGlyphs" fill="#f58220" stroke="#f58220">L</tspan><tspan x="110.99" textLength="10.81" lengthAdjust="spacingAndGlyphs" fill="#f58220" stroke="#f58220">L</tspan></text>
<text transform="translate(25.96 1585.60) scale(1.1000 1)" font-size="6.10" font-weight="700" fill="#b3264c" letter-spacing="0.635">PHOTO &amp; VIDEO AGENCY</text>
<text transform="translate(3.82 1597.50) scale(0.9003 1)" font-size="14.53" font-weight="400" fill="#6893aa">Izvor: DZS</text>
</svg>
</body>
</html>
